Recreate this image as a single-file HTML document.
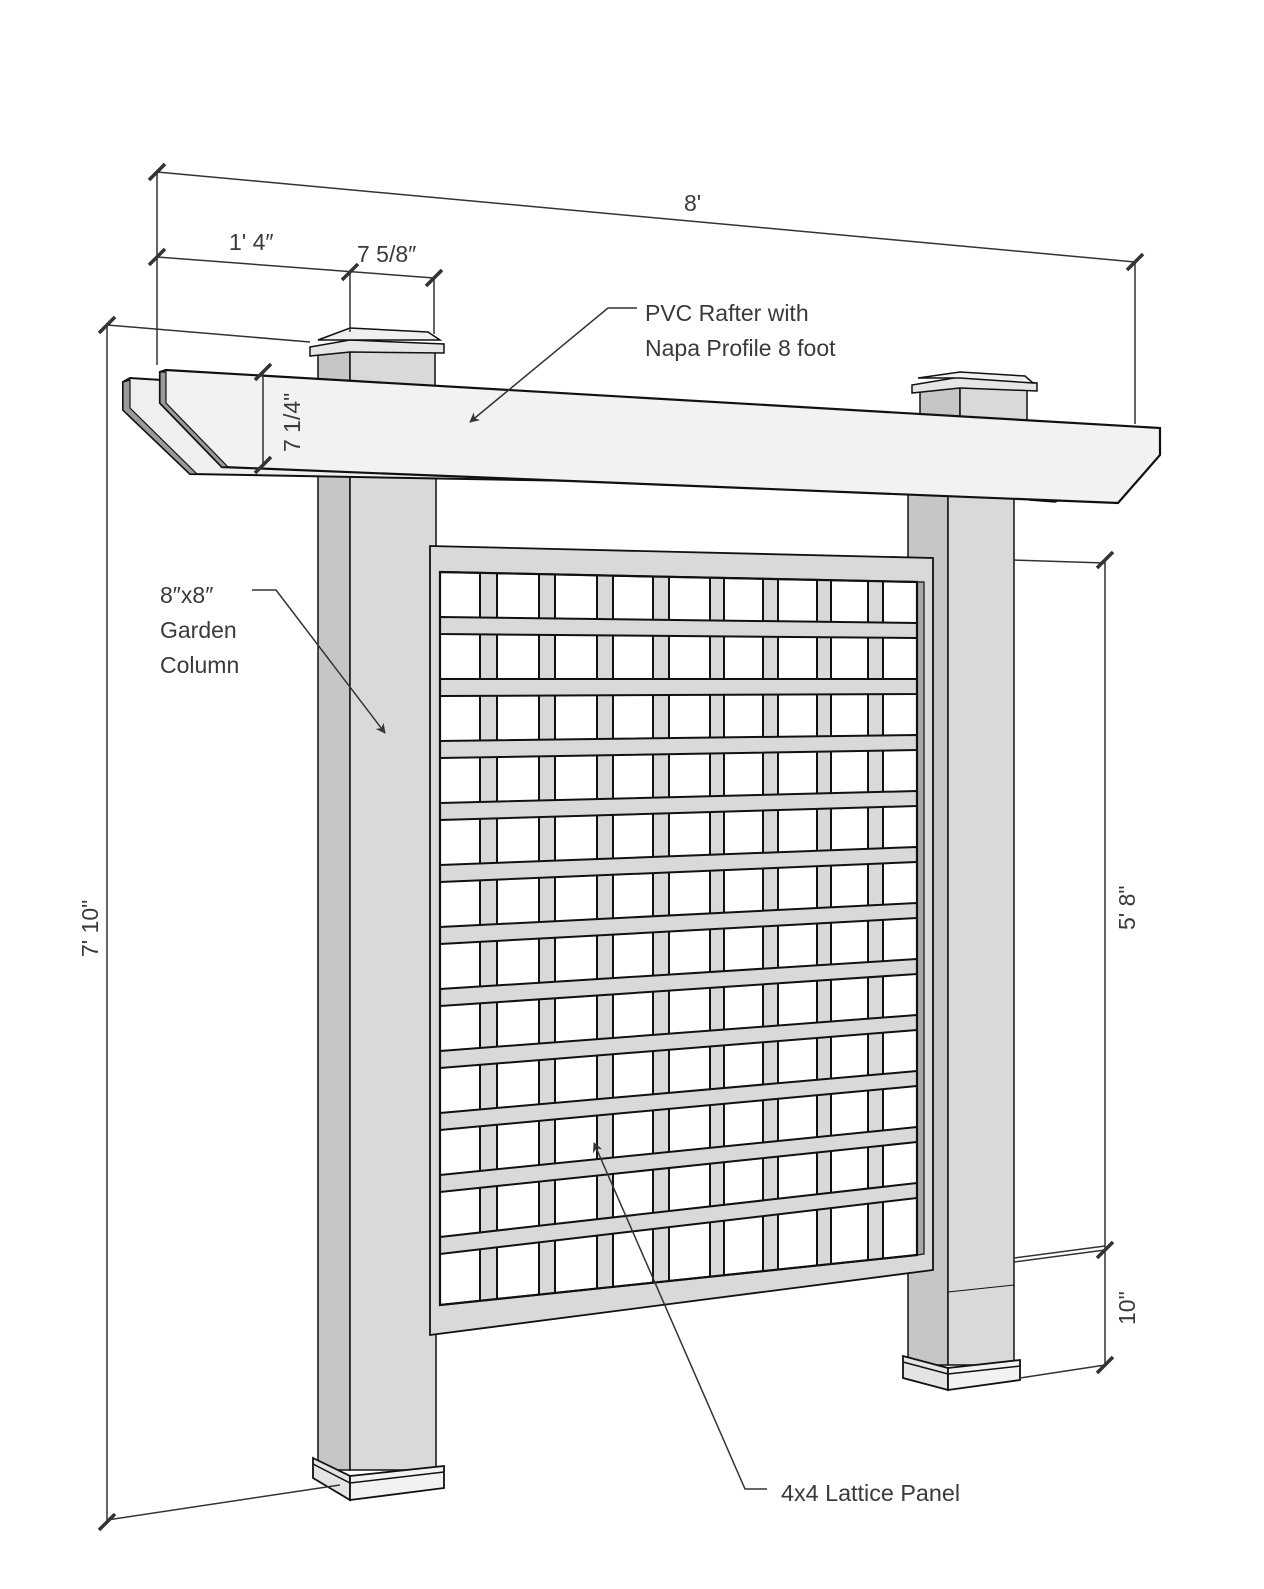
<!DOCTYPE html>
<html><head><meta charset="utf-8"><style>
html,body{margin:0;padding:0;background:#fff;}
svg{display:block;}
text{font-family:"Liberation Sans",sans-serif;fill:#3a3a3a;font-size:23px;}
</style></head><body>
<svg width="1264" height="1589" viewBox="0 0 1264 1589" xmlns="http://www.w3.org/2000/svg">
<defs>
<clipPath id="inner"><polygon points="440,572 917,582 917,1255 440,1305"/></clipPath>
<marker id="ar" markerWidth="10" markerHeight="10" refX="9" refY="5" orient="auto" markerUnits="userSpaceOnUse"><path d="M0,0 L10,5 L0,10 L3,5 Z" fill="#333"/></marker>
</defs>

<!-- LEFT POST upper -->
<rect x="318" y="350" width="32" height="40" fill="#c6c6c6" stroke="#111" stroke-width="1.5"/>
<rect x="350" y="350" width="85" height="40" fill="#d9d9d9" stroke="#111" stroke-width="1.5"/>
<polygon points="310,347 350,340 444,344 444,353 350,352 310,356" fill="#e6e6e6" stroke="#111" stroke-width="1.5"/>
<polygon points="318,340 350,328 428,332 440,340 350,340" fill="#f0f0f0" stroke="#111" stroke-width="1.5"/>

<!-- RIGHT POST upper -->
<rect x="920" y="385" width="40" height="40" fill="#c6c6c6" stroke="#111" stroke-width="1.5"/>
<rect x="960" y="385" width="67" height="40" fill="#d9d9d9" stroke="#111" stroke-width="1.5"/>
<polygon points="912,385 960,377 1037,383 1037,391 960,388 912,393" fill="#e6e6e6" stroke="#111" stroke-width="1.5"/>
<polygon points="918,378 960,372 1025,376 1033,383 960,378" fill="#f0f0f0" stroke="#111" stroke-width="1.5"/>

<!-- LEFT POST body -->
<rect x="318" y="465" width="32" height="1005" fill="#c6c6c6" stroke="#111" stroke-width="1.5"/>
<rect x="350" y="465" width="86" height="1005" fill="#d9d9d9" stroke="#111" stroke-width="1.5"/>
<polygon points="313,1458 350,1476 350,1500 313,1478" fill="#e4e4e4" stroke="#111" stroke-width="1.8"/>
<polygon points="350,1476 444,1466 444,1488 350,1500" fill="#f2f2f2" stroke="#111" stroke-width="1.8"/>
<polyline points="313,1464 350,1483 444,1472" fill="none" stroke="#111" stroke-width="1.5"/>

<!-- RIGHT POST body -->
<rect x="908" y="490" width="40" height="875" fill="#c6c6c6" stroke="#111" stroke-width="1.5"/>
<rect x="948" y="490" width="66" height="875" fill="#d9d9d9" stroke="#111" stroke-width="1.5"/>
<line x1="948" y1="1292" x2="1014" y2="1285" stroke="#111" stroke-width="1"/>
<polygon points="903,1356 948,1368 948,1390 903,1378" fill="#e4e4e4" stroke="#111" stroke-width="1.8"/>
<polygon points="948,1368 1020,1360 1020,1380 948,1390" fill="#f2f2f2" stroke="#111" stroke-width="1.8"/>
<polyline points="903,1362 948,1374 1020,1366" fill="none" stroke="#111" stroke-width="1.5"/>

<!-- RAFTER back board -->
<polygon points="123,382 130,378 800,420 800,485 190,474 123,410" fill="#efefef" stroke="#111" stroke-width="2"/>
<polygon points="123,382 130,380 130,408 197,474 190,474 123,410" fill="#9a9a9a" stroke="#111" stroke-width="1.2"/>
<polygon points="1030,490 1070,496 1055,502 1030,500" fill="#e0e0e0" stroke="#111" stroke-width="1.5"/>
<!-- RAFTER front -->
<polygon points="160,372 166,370 1160,428 1160,455 1118,503 222,467 160,403" fill="#f2f2f2" stroke="#111" stroke-width="2.2"/>
<polygon points="160,372 166,372 166,403 228,467 222,467 160,403" fill="#9a9a9a" stroke="#111" stroke-width="1.2"/>

<!-- LATTICE frame -->
<polygon points="430,546 933,558 933,1270 430,1335" fill="#d9d9d9" stroke="#111" stroke-width="1.8"/>
<polygon points="917,582 924,582 924,1254 917,1255" fill="#a8a8a8" stroke="#111" stroke-width="1.2"/>
<polygon points="440,572 917,582 917,1255 440,1305" fill="#fff" stroke="#111" stroke-width="2"/>
<g clip-path="url(#inner)" stroke="#111" stroke-width="2" fill="#d9d9d9">
<rect x="480" y="560" width="17" height="760"/>
<rect x="539" y="560" width="16" height="760"/>
<rect x="597" y="560" width="16" height="760"/>
<rect x="653" y="560" width="16" height="760"/>
<rect x="710" y="560" width="14" height="760"/>
<rect x="763" y="560" width="15" height="760"/>
<rect x="817" y="560" width="14" height="760"/>
<rect x="868" y="560" width="15" height="760"/>
<polygon points="440,617 917,623 917,638 440,634"/>
<polygon points="440,679 917,679 917,694 440,696"/>
<polygon points="440,741 917,735 917,750 440,758"/>
<polygon points="440,803 917,791 917,806 440,820"/>
<polygon points="440,865 917,847 917,862 440,882"/>
<polygon points="440,927 917,903 917,918 440,944"/>
<polygon points="440,989 917,959 917,974 440,1006"/>
<polygon points="440,1051 917,1015 917,1030 440,1068"/>
<polygon points="440,1113 917,1071 917,1086 440,1130"/>
<polygon points="440,1175 917,1127 917,1142 440,1192"/>
<polygon points="440,1237 917,1183 917,1198 440,1254"/>
</g>
<polygon points="440,572 917,582 917,1255 440,1305" fill="none" stroke="#111" stroke-width="2.2"/>

<!-- DIMENSIONS -->
<g stroke="#333" stroke-width="1.5" fill="none">
<line x1="157" y1="172" x2="1135" y2="262"/>
<line x1="157" y1="172" x2="157" y2="365"/>
<line x1="1135" y1="262" x2="1135" y2="424"/>
<line x1="157" y1="257" x2="434" y2="278"/>
<line x1="350" y1="272" x2="350" y2="332"/>
<line x1="434" y1="278" x2="434" y2="334"/>
<line x1="107" y1="325" x2="310" y2="342"/>
<line x1="107" y1="325" x2="107" y2="1522"/>
<line x1="107" y1="1520" x2="340" y2="1485"/>
<line x1="263" y1="372" x2="263" y2="465"/>
<line x1="1014" y1="560" x2="1105" y2="563"/>
<line x1="1105" y1="560" x2="1105" y2="1365"/>
<line x1="1014" y1="1262" x2="1105" y2="1250"/>
<line x1="1014" y1="1258" x2="1105" y2="1246"/>
<line x1="1020" y1="1378" x2="1105" y2="1365"/>
</g>
<g stroke="#333" stroke-width="3.5">
<line x1="149" y1="180" x2="165" y2="164"/>
<line x1="1127" y1="270" x2="1143" y2="254"/>
<line x1="149" y1="265" x2="165" y2="249"/>
<line x1="342" y1="280" x2="358" y2="264"/>
<line x1="426" y1="286" x2="442" y2="270"/>
<line x1="99" y1="333" x2="115" y2="317"/>
<line x1="99" y1="1530" x2="115" y2="1514"/>
<line x1="255" y1="380" x2="271" y2="364"/>
<line x1="255" y1="473" x2="271" y2="457"/>
<line x1="1097" y1="568" x2="1113" y2="552"/>
<line x1="1097" y1="1258" x2="1113" y2="1242"/>
<line x1="1097" y1="1373" x2="1113" y2="1357"/>
</g>
<text x="684" y="211">8'</text>
<text x="229" y="250">1' 4″</text>
<text x="357" y="262">7 5/8″</text>
<text transform="translate(300,452) rotate(-90)">7 1/4"</text>
<text transform="translate(98,957) rotate(-90)">7' 10"</text>
<text transform="translate(1135,930) rotate(-90)">5' 8"</text>
<text transform="translate(1135,1325) rotate(-90)">10"</text>

<!-- LEADERS -->
<g stroke="#333" stroke-width="1.5" fill="none">
<polyline points="637,308 608,308 470,422" marker-end="url(#ar)"/>
<polyline points="252,590 276,590 385,733" marker-end="url(#ar)"/>
<polyline points="767,1489 745,1489 594,1143" marker-end="url(#ar)"/>
</g>
<text x="645" y="321">PVC Rafter with</text>
<text x="645" y="356">Napa Profile 8 foot</text>
<text x="160" y="603">8″x8″</text>
<text x="160" y="638">Garden</text>
<text x="160" y="673">Column</text>
<text x="781" y="1501" textLength="179" lengthAdjust="spacingAndGlyphs">4x4 Lattice Panel</text>
</svg>
</body></html>
